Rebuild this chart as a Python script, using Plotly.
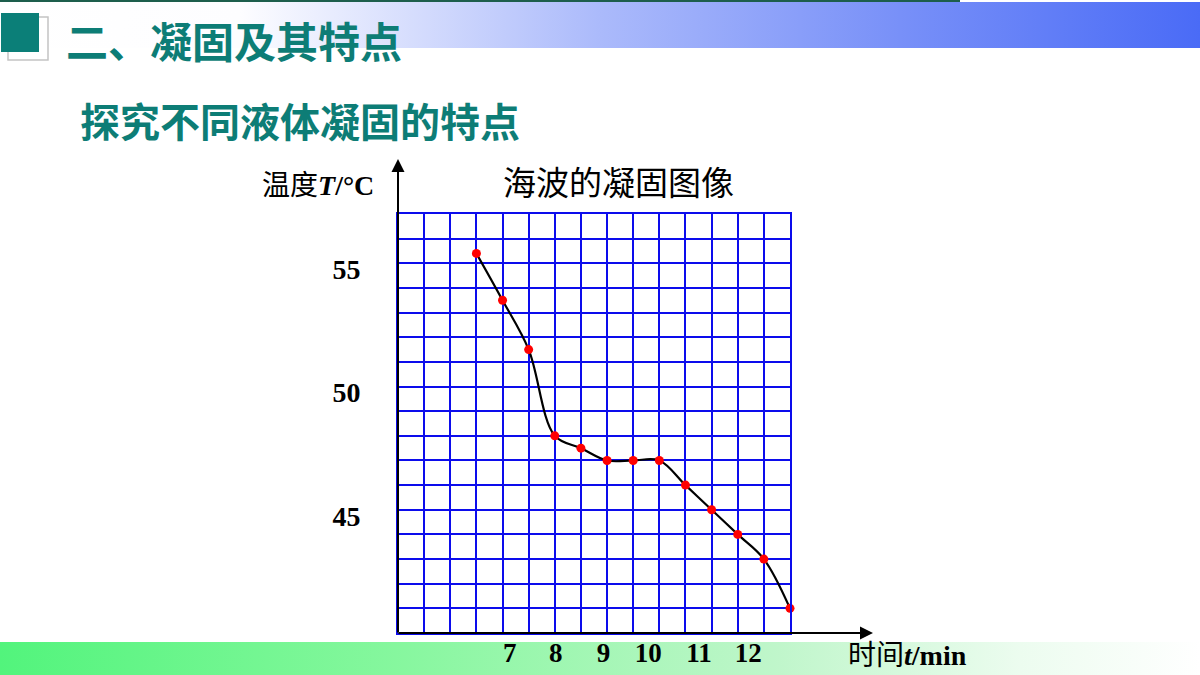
import plotly.graph_objects as go

# meetpunten (海波)
tijd = [6.5, 7, 7.5, 8, 8.5, 9, 9.5, 10, 10.5, 11, 11.5, 12, 12.5]
temperatuur = [55.4, 53.5, 51.5, 48, 47.5, 47, 47, 47, 46, 45, 44, 43, 41]

# as-labels zoals ze op de dia staan
x_tick_pos = [7.14, 8.02, 8.93, 9.79, 10.76, 11.70]
x_tick_text = ['7', '8', '9', '10', '11', '12']
y_tick_vals = [45, 50, 55]

teal = '#0d7d76'
grid_blue = '#0c0cec'
cjk = 'Noto Sans CJK SC'
serif = 'Liberation Serif'

fig = go.Figure()

# achtergrond banden (pixel assen x/y)
fig.add_trace(go.Scatter(
    x=[0, 1200, 1200, 0], y=[2, 2, 48, 48], fill='toself', mode='none',
    fillgradient=dict(type='horizontal', colorscale=[
        [0, '#ffffff'], [0.2, '#fdfdff'], [0.5, '#abbafb'], [0.75, '#7890f8'], [1, '#4a6bf6']]),
    hoverinfo='skip', showlegend=False, xaxis='x', yaxis='y'))
fig.add_trace(go.Scatter(
    x=[0, 1200, 1200, 0], y=[642, 642, 675, 675], fill='toself', mode='none',
    fillgradient=dict(type='horizontal', colorscale=[
        [0, '#52f47c'], [0.33, '#86f79e'], [0.65, '#c0f6cb'], [0.85, '#ecfcef'], [1, '#ffffff']]),
    hoverinfo='skip', showlegend=False, xaxis='x', yaxis='y'))

# de stollingscurve
fig.add_trace(go.Scatter(
    x=tijd, y=temperatuur, mode='lines+markers',
    line=dict(color='black', width=2.2, shape='spline', smoothing=1),
    marker=dict(color='#ff0000', size=9),
    cliponaxis=False, showlegend=False, xaxis='x2', yaxis='y2'))

fig.update_layout(
    width=1200, height=675,
    margin=dict(l=0, r=0, t=0, b=0),
    paper_bgcolor='white', plot_bgcolor='rgba(0,0,0,0)',
    xaxis=dict(domain=[0, 1], range=[0, 1200], visible=False),
    yaxis=dict(domain=[0, 1], range=[675, 0], visible=False),
    xaxis2=dict(
        domain=[398 / 1200, 790 / 1200], range=[5, 12.5], anchor='y2',
        tickmode='array', tickvals=x_tick_pos, ticktext=x_tick_text,
        showgrid=False, zeroline=False, ticks='',
        showline=True, mirror=True, linecolor=grid_blue, linewidth=2,
        tickfont=dict(family=serif, size=27, color='black', weight='bold'),
        ticklabelstandoff=-5,
        minor=dict(tickmode='linear', tick0=5, dtick=0.5, showgrid=True,
                   gridcolor=grid_blue, gridwidth=2, ticks='')),
    yaxis2=dict(
        domain=[1 - 633 / 675, 1 - 214 / 675], range=[40, 57], anchor='x2',
        tickmode='array', tickvals=y_tick_vals,
        showgrid=True, gridcolor=grid_blue, gridwidth=2,
        zeroline=False, ticks='',
        showline=True, mirror=True, linecolor=grid_blue, linewidth=2,
        tickfont=dict(family=serif, size=28, color='black', weight='bold'),
        ticklabelstandoff=30, ticklabelshift=6,
        minor=dict(tickmode='linear', tick0=40, dtick=1, showgrid=True,
                   gridcolor=grid_blue, gridwidth=2, ticks='')),
)

# kop decoratie
fig.add_shape(type='line', x0=0, x1=960, y0=1, y1=1, xref='x', yref='y',
              line=dict(color='#1d5e4c', width=2))
fig.add_shape(type='rect', x0=8, x1=48, y0=17, y1=60, xref='x', yref='y',
              fillcolor='white', line=dict(color='#c4c4c4', width=1.5))
fig.add_shape(type='rect', x0=1, x1=39, y0=13, y1=52, xref='x', yref='y',
              fillcolor='#0b7f78', line_width=0)

# assen met pijlen
fig.add_annotation(x=398, y=159, ax=398, ay=634, xref='x', yref='y', axref='x', ayref='y',
                   text='', showarrow=True, arrowhead=2, arrowsize=1.3, arrowwidth=2, arrowcolor='black')
fig.add_annotation(x=873, y=633, ax=397, ay=633, xref='x', yref='y', axref='x', ayref='y',
                   text='', showarrow=True, arrowhead=2, arrowsize=1.3, arrowwidth=2, arrowcolor='black')

# teksten
fig.add_annotation(x=64, y=39, xref='x', yref='y', xanchor='left', yanchor='middle', showarrow=False,
                   text='二、凝固及其特点', font=dict(family=cjk, size=42, color=teal, weight='bold'))
fig.add_annotation(x=78, y=120, xref='x', yref='y', xanchor='left', yanchor='middle', showarrow=False,
                   text='探究不同液体凝固的特点', font=dict(family=cjk, size=40, color=teal, weight='bold'))
fig.add_annotation(x=618, y=181, xref='x', yref='y', xanchor='center', yanchor='middle', showarrow=False,
                   text='海波的凝固图像', font=dict(family=cjk, size=33, color='black'))
fig.add_annotation(x=260, y=183, xref='x', yref='y', xanchor='left', yanchor='middle', showarrow=False,
                   text='温度<span style="font-family:Liberation Serif"><b><i>T</i>/°C</b></span>',
                   font=dict(family=cjk, size=28, color='black'))
fig.add_annotation(x=846, y=675, xref='x', yref='y', xanchor='left', yanchor='bottom', showarrow=False,
                   text='时间<span style="font-family:Liberation Serif"><b><i>t</i>/min</b></span>',
                   font=dict(family=cjk, size=28, color='black'))

# body marge weg zodat de dia precies in het venster past
fig.write_html("out.html", config={'displayModeBar': False},
               post_script="document.body.style.margin='0';")
